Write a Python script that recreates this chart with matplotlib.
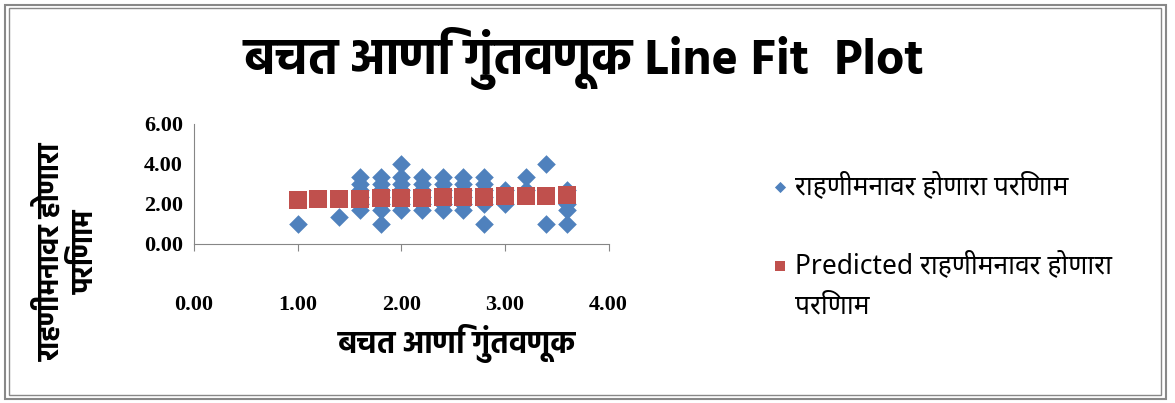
import matplotlib
matplotlib.use("Agg")
import matplotlib.pyplot as plt
from matplotlib import font_manager
from matplotlib.patches import Rectangle

# observed values (बचत आणि गुंतवणूक vs राहणीमनावर होणारा परिणाम)
obs_x = [1.0,
         1.4,
         1.6, 1.6, 1.6, 1.6, 1.6, 1.6,
         1.8, 1.8, 1.8, 1.8, 1.8, 1.8, 1.8,
         2.0, 2.0, 2.0, 2.0, 2.0, 2.0, 2.0,
         2.2, 2.2, 2.2, 2.2, 2.2, 2.2,
         2.4, 2.4, 2.4, 2.4, 2.4, 2.4,
         2.6, 2.6, 2.6, 2.6, 2.6, 2.6,
         2.8, 2.8, 2.8, 2.8, 2.8, 2.8,
         3.0, 3.0,
         3.2, 3.2,
         3.4, 3.4,
         3.6, 3.6, 3.6, 3.6]
obs_y = [1.0,
         1.33,
         1.67, 2.0, 2.33, 2.67, 3.0, 3.33,
         1.0, 1.67, 2.0, 2.33, 2.67, 3.0, 3.33,
         1.67, 2.0, 2.33, 2.67, 3.0, 3.33, 4.0,
         1.67, 2.0, 2.33, 2.67, 3.0, 3.33,
         1.67, 2.0, 2.33, 2.67, 3.0, 3.33,
         1.67, 2.0, 2.33, 2.67, 3.0, 3.33,
         1.0, 2.0, 2.33, 2.67, 3.0, 3.33,
         2.0, 2.67,
         2.67, 3.33,
         1.0, 4.0,
         1.0, 1.67, 2.0, 2.67]

pred_x = [1.0, 1.2, 1.4, 1.6, 1.8, 2.0, 2.2, 2.4, 2.6, 2.8, 3.0, 3.2, 3.4, 3.6]
pred_y = [2.20, 2.22, 2.23, 2.25, 2.27, 2.29, 2.30, 2.32, 2.34, 2.36, 2.37, 2.39, 2.41, 2.43]

x_ticks = [0.0, 1.0, 2.0, 3.0, 4.0]
y_ticks = [0.0, 2.0, 4.0, 6.0]

title = "बचत आणि गुंतवणूक Line Fit  Plot"
x_label = "बचत आणि गुंतवणूक"
y_label = "राहणीमनावर होणारा\nपरिणाम"
obs_label = "राहणीमनावर होणारा परिणाम"
pred_label = "Predicted राहणीमनावर होणारा"
pred_label_wrap = "परिणाम"   # second line of the wrapped legend label

# pick an installed Devanagari family, preferably one with a bold face
prefs = ["Hind", "Mukta", "Noto Sans Devanagari", "Lohit Devanagari", "Annapurna SIL", "Arya"]
entries = font_manager.fontManager.ttflist
deva = None
for name in prefs:
    if any(f.name == name and f.weight in (700, "bold") for f in entries):
        deva = name
        break
if deva is None:
    for name in prefs:
        if any(f.name == name for f in entries):
            deva = name
            break
plain = "Noto Sans Devanagari" if any(f.name == "Noto Sans Devanagari" for f in entries) else deva
fams = ([deva] if deva else []) + ["DejaVu Sans"]
plain_fams = ([plain] if plain else []) + ["DejaVu Sans"]
plt.rcParams["font.family"] = fams

fig = plt.figure(figsize=(11.75, 4.03), dpi=100)
fig.patches.append(Rectangle((0.004, 0.01), 0.988, 0.978, transform=fig.transFigure,
                             fill=False, edgecolor="#888888", linewidth=1.5))
fig.patches.append(Rectangle((0.008, 0.02), 0.98, 0.96, transform=fig.transFigure,
                             fill=False, edgecolor="#888888", linewidth=1.0))

ax = fig.add_axes([0.165, 0.395, 0.353, 0.298])
ax.scatter(obs_x, obs_y, marker="D", s=90, color="#4F81BD", linewidths=0,
           label=obs_label, zorder=3)
ax.scatter(pred_x, pred_y, marker="s", s=150, color="#C0504D", linewidths=0,
           label=pred_label, zorder=4)

ax.set_xlim(0, 4)
ax.set_ylim(0, 6)
ax.set_xticks(x_ticks)
ax.set_yticks(y_ticks)
ax.set_xticklabels([f"{v:.2f}" for v in x_ticks], family="Liberation Serif",
                   fontweight="bold", fontsize=16)
ax.set_yticklabels([f"{v:.2f}" for v in y_ticks], family="Liberation Serif",
                   fontweight="bold", fontsize=16)
ax.tick_params(axis="x", pad=32, length=5, color="#868686")
ax.tick_params(axis="y", length=0, pad=8)
for s in ["top", "right"]:
    ax.spines[s].set_visible(False)
for s in ["left", "bottom"]:
    ax.spines[s].set_color("#868686")

# axis titles sit where Excel put them
fig.text(0.389, 0.148, x_label, fontsize=22, fontweight="bold", ha="center", va="center")
fig.text(0.057, 0.375, y_label, rotation=90, fontsize=21, fontweight="bold",
         ha="center", va="center", linespacing=1.25, multialignment="center")

fig.text(0.497, 0.855, title, fontsize=36, fontweight="bold", ha="center", va="center")

leg_font = font_manager.FontProperties(family=plain_fams, size=19)
leg = ax.legend(loc="upper left", bbox_to_anchor=(0.632, 0.63), bbox_transform=fig.transFigure,
                frameon=False, labelspacing=1.95, handletextpad=0.1,
                handlelength=1.0, markerscale=0.6, prop=leg_font)
fig.text(0.677, 0.24, pred_label_wrap, fontproperties=leg_font, ha="left", va="center")

fig.savefig("out.png", dpi=100)
